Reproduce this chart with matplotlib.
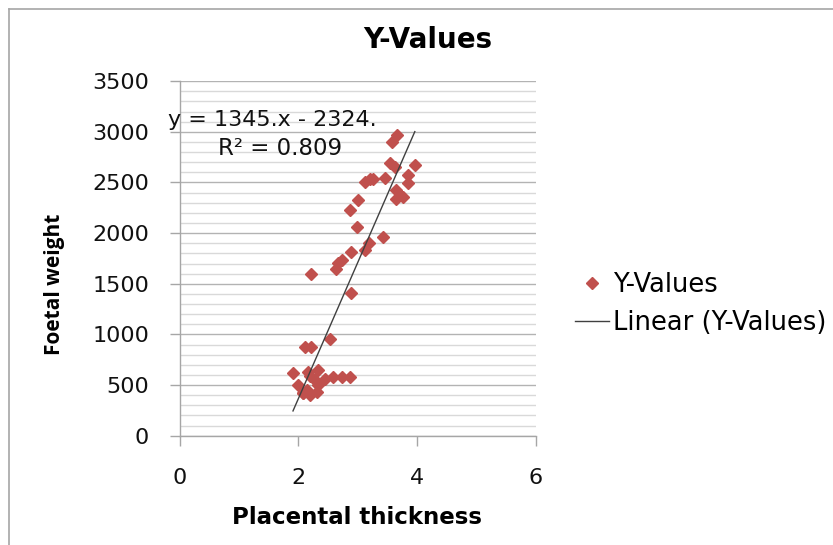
import numpy as np
import matplotlib
matplotlib.use("Agg")
import matplotlib.pyplot as plt
from matplotlib.lines import Line2D

# data (placental thickness vs foetal weight)
thickness = [3.66, 3.57, 3.54, 3.62, 3.96, 3.85, 3.85, 3.12, 3.20, 3.26, 3.45,
             3.65, 3.71, 3.65, 3.76, 3.00, 2.87, 2.98, 3.42, 3.19, 3.12, 2.88,
             2.73, 2.67, 2.64, 2.22, 2.88, 2.53, 2.11, 2.22, 1.91, 2.16, 2.33,
             2.00, 2.08, 2.45, 2.58, 2.73, 2.87, 2.33, 2.14, 2.31, 2.19, 2.08,
             2.28, 2.19]
weight = [2965, 2900, 2688, 2655, 2671, 2572, 2491, 2506, 2530, 2530, 2540,
          2424, 2375, 2342, 2358, 2326, 2227, 2056, 1958, 1905, 1832, 1816,
          1734, 1701, 1642, 1593, 1411, 951, 872, 872, 622, 632, 648,
          500, 424, 557, 576, 576, 576, 500, 451, 434, 402, 418,
          550, 589]

slope, intercept = 1345.0, -2324.0
eq_text = "y = 1345.x - 2324."
r2_text = "R² = 0.809"

x_ticks = [0, 2, 4, 6]
y_ticks = list(range(0, 3501, 500))

fig = plt.figure(figsize=(8.33, 5.45), dpi=100)
# chart frame (only left and top edges are visible in the crop)
fig.lines.append(Line2D([0.0105, 0.0105], [0.0, 0.983], transform=fig.transFigure,
                        color="#a6a6a6", linewidth=1.2))
fig.lines.append(Line2D([0.0105, 1.0], [0.983, 0.983], transform=fig.transFigure,
                        color="#a6a6a6", linewidth=1.2))

ax = fig.add_axes([0.2155, 0.2005, 0.428, 0.6505])
ax.set_xlim(0, 6)
ax.set_ylim(0, 3500)

# gridlines: minor every 100, major every 500
ax.set_yticks(y_ticks)
ax.set_yticks(np.arange(0, 3501, 100), minor=True)
ax.set_xticks(x_ticks)
ax.grid(True, which="minor", axis="y", color="#d9d9d9", linewidth=1.0)
ax.grid(True, which="major", axis="y", color="#b3b3b3", linewidth=1.0)
ax.set_axisbelow(True)

for side in ["top", "right"]:
    ax.spines[side].set_visible(False)
for side in ["left", "bottom"]:
    ax.spines[side].set_color("#a6a6a6")
    ax.spines[side].set_linewidth(1.0)

ax.tick_params(axis="both", which="major", direction="out", length=7, width=1,
               color="#a6a6a6", labelsize=16, labelcolor="#111111")
ax.tick_params(axis="y", which="minor", length=0)
ax.tick_params(axis="x", pad=16)
ax.tick_params(axis="y", pad=15)

ax.plot(thickness, weight, linestyle="none", marker="D", markersize=6.5,
        color="#c0504d", markeredgecolor="#c0504d")

xs = np.array([min(thickness), max(thickness)])
ax.plot(xs, slope * xs + intercept, color="#404040", linewidth=1.0)

ax.text(-0.19, 3120, eq_text, fontsize=16, color="#111111", va="center", ha="left")
ax.text(0.64, 2840, r2_text, fontsize=16.5, color="#111111", va="center", ha="left")

fig.text(0.513, 0.927, "Y-Values", fontsize=20, fontweight="bold", ha="center",
         va="center")
fig.text(0.429, 0.05, "Placental thickness", fontsize=16.5, fontweight="bold",
         ha="center", va="center")
fig.text(0.066, 0.478, "Foetal weight", fontsize=15, fontweight="bold",
         ha="center", va="center", rotation=90, family="Open Sans")

handles = [Line2D([], [], linestyle="none", marker="D", markersize=6,
                  color="#c0504d"),
           Line2D([], [], color="#404040", linewidth=1.0)]
fig.legend(handles, ["Y-Values", "Linear (Y-Values)"], loc="center left",
           bbox_to_anchor=(0.662, 0.442), frameon=False, fontsize=18.5,
           handlelength=1.35, handletextpad=0.15, labelspacing=0.45)

fig.savefig("out.png", dpi=100)
